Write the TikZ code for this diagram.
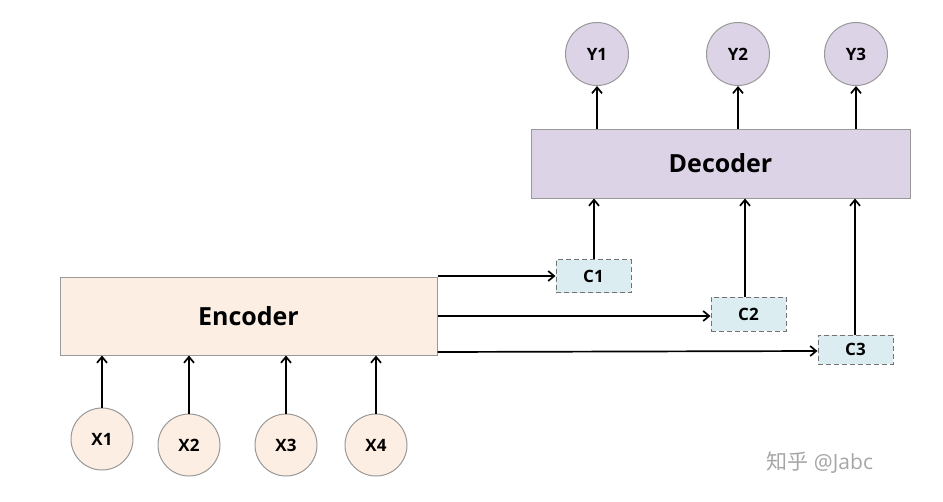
\documentclass[tikz,border=0pt]{standalone}
\usetikzlibrary{arrows.meta}
\usepackage{fontspec}
\setmainfont{Open Sans}
\newfontfamily\cjk{Noto Sans CJK SC}
\begin{document}
\begin{tikzpicture}[x=1pt,y=-1pt,
  arr/.style={draw=black,line width=1.7pt,-{Straight Barb[length=6pt,width=10pt]}},
  enc/.style={draw=gray!80,line width=1pt,fill=encf,inner sep=0pt,font=\bfseries\fontsize{25}{29}\selectfont},
  dec/.style={draw=gray!80,line width=1pt,fill=decf,inner sep=0pt,font=\bfseries\fontsize{25}{29}\selectfont},
  ycirc/.style={circle,draw=gray!80,line width=1pt,fill=decf,minimum size=63pt,inner sep=0pt,font=\bfseries\fontsize{17}{20}\selectfont},
  xcirc/.style={circle,draw=gray!80,line width=1pt,fill=encf,minimum size=62pt,inner sep=0pt,font=\bfseries\fontsize{17}{20}\selectfont},
  cbox/.style={draw=gray!110,dash pattern=on 5pt off 3pt,line width=1pt,fill=cf,inner sep=0pt,font=\bfseries\fontsize{17}{20}\selectfont}]
\definecolor{encf}{HTML}{FCEEE2}
\definecolor{decf}{HTML}{DDD3E6}
\definecolor{cf}{HTML}{DCEDF2}
\useasboundingbox (0,0) rectangle (943,501);
\node[enc,minimum width=377pt,minimum height=78pt] (E) at (248.5,316) {Encoder};
\node[dec,minimum width=379pt,minimum height=69pt] (D) at (720.5,163.5) {Decoder};
\node[ycirc] (Y1) at (597,54) {Y1};
\node[ycirc] (Y2) at (738,54) {Y2};
\node[ycirc] (Y3) at (856,54) {Y3};
\node[xcirc] (X1) at (102,439) {X1};
\node[xcirc] (X2) at (189,445) {X2};
\node[xcirc] (X3) at (286,445) {X3};
\node[xcirc] (X4) at (376,445) {X4};
\node[cbox,minimum width=75pt,minimum height=33pt] (C1) at (593.5,276) {C1};
\node[cbox,minimum width=75pt,minimum height=34pt] (C2) at (748.5,314) {C2};
\node[cbox,minimum width=75pt,minimum height=29pt] (C3) at (855.5,349.5) {C3};
\draw[arr] (E.east |- 0,276) -- (C1.west);
\draw[arr] (E.east |- 0,316) -- (C2.west |- 0,316);
\draw[arr] (E.east |- 0,352) -- (C3.west |- 0,351);
\draw[arr] (C1.north -| 594,0) -- (D.south -| 594,0);
\draw[arr] (C2.north -| 745,0) -- (D.south -| 745,0);
\draw[arr] (C3.north -| 855,0) -- (D.south -| 855,0);
\foreach \i in {1,2,3} \draw[arr] (D.north -| Y\i) -- (Y\i.south);
\foreach \i in {1,2,3,4} \draw[arr] (X\i.north) -- (E.south -| X\i);
\node[text=gray!70,font=\fontsize{21}{24}\selectfont,anchor=west] (W) at (763,463) {{\cjk 知乎} @Jabc};
\end{tikzpicture}
\end{document}
